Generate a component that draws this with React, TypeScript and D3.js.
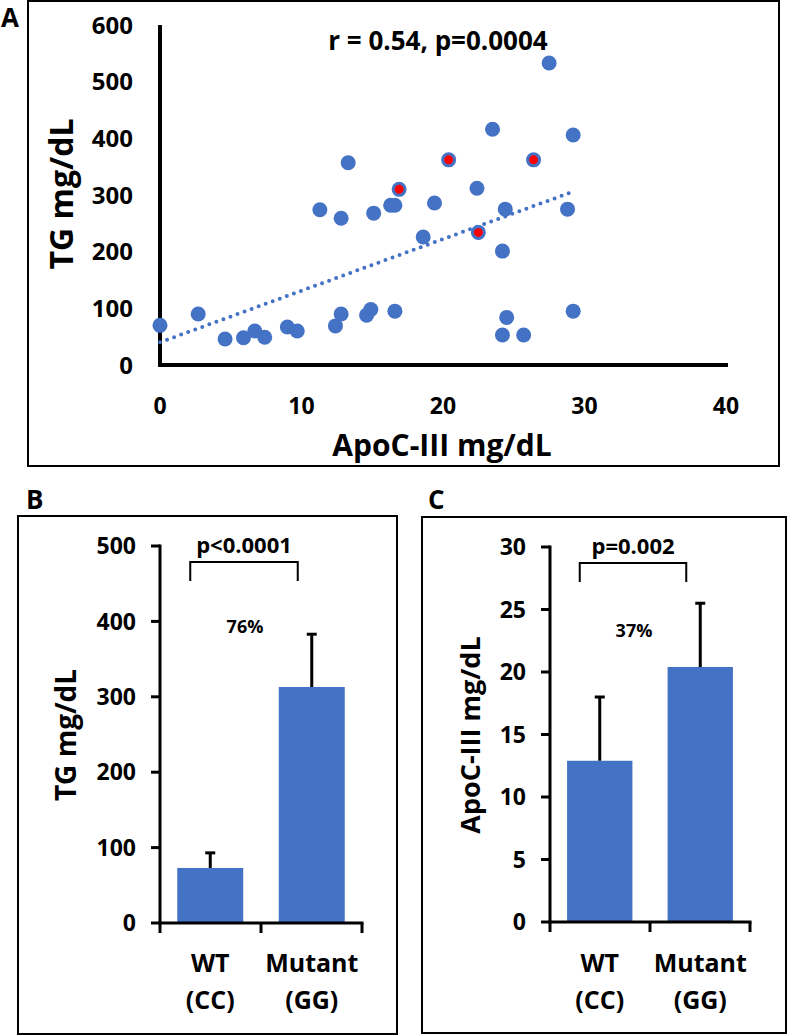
import React from "react";
import * as d3 from "d3";

// ---------- Panel A data ----------
const apocBlue = [0, 2.7, 4.6, 5.9, 6.7, 7.4, 9.0, 9.7, 12.4, 12.8, 14.6, 14.9, 16.6, 13.3, 11.3, 12.8, 15.1, 16.3, 16.6, 27.5, 23.5, 29.2, 22.4, 19.4, 24.4, 28.8, 18.6, 24.2, 24.5, 24.2, 25.7, 29.2];
const tgBlue = [70, 90, 46, 48, 60, 49, 67, 60, 69, 90, 88, 98, 95, 357, 274, 259, 268, 282, 282, 533, 416, 406, 312, 286, 275, 275, 226, 201, 84, 53, 53, 95];
const apocRed = [16.9, 20.4, 26.4, 22.5];
const tgRed = [310, 362, 362, 234];
const trendX = [0, 29.2];
const trendY = [40, 306];
const xTicksA = [0, 10, 20, 30, 40];
const yTicksA = [0, 100, 200, 300, 400, 500, 600];

// ---------- Panel B / C data ----------
const groups = ["WT", "Mutant"];
const groupSub = ["(CC)", "(GG)"];
const tgMeans = [73, 313];
const tgErr = [93, 383];
const apoMeans = [12.9, 20.4];
const apoErr = [18.0, 25.5];
const yTicksB = [0, 100, 200, 300, 400, 500];
const yTicksC = [0, 5, 10, 15, 20, 25, 30];

const BLUE = "#4472C4";
const FONT = "'Open Sans', sans-serif";

function ScatterA() {
  const x = d3.scaleLinear().domain([0, 40]).range([160, 726]);
  const y = d3.scaleLinear().domain([0, 600]).range([365, 25]);
  const line = d3.line<number>().x((_, i) => x(trendX[i])).y((_, i) => y(trendY[i]));
  return (
    <g>
      <rect x={28} y={1} width={751} height={465} fill="none" stroke="#000" strokeWidth={2} />
      <text x={1} y={27} fontFamily={FONT} fontWeight={700} fontSize={26}>A</text>
      {/* axes */}
      <line x1={x(0)} x2={x(0)} y1={y(0) + 2} y2={y(600)} stroke="#000" strokeWidth={4} />
      <line x1={x(0) - 2} x2={x(40) + 2} y1={y(0)} y2={y(0)} stroke="#000" strokeWidth={4} />
      {yTicksA.map((t) => (
        <text key={t} x={133} y={y(t)} dy="0.36em" textAnchor="end" fontFamily={FONT} fontWeight={700} fontSize={24}>{t}</text>
      ))}
      {xTicksA.map((t) => (
        <text key={t} x={x(t)} y={406} dy="0.36em" textAnchor="middle" fontFamily={FONT} fontWeight={700} fontSize={23}>{t}</text>
      ))}
      <text x={442} y={445} dy="0.36em" textAnchor="middle" fontFamily={FONT} fontWeight={700} fontSize={30}>ApoC-III mg/dL</text>
      <text transform="translate(61,194) rotate(-90)" textAnchor="middle" dy="0.36em" fontFamily={FONT} fontWeight={700} fontSize={32}>TG mg/dL</text>
      <text x={438} y={41} dy="0.36em" textAnchor="middle" fontFamily={FONT} fontWeight={700} fontSize={26}>r = 0.54, p=0.0004</text>
      {apocBlue.map((v, i) => (
        <circle key={i} cx={x(v)} cy={y(tgBlue[i])} r={7.5} fill={BLUE} />
      ))}
      {apocRed.map((v, i) => (
        <circle key={"r" + i} cx={x(v)} cy={y(tgRed[i])} r={6} fill="#FF0000" stroke={BLUE} strokeWidth={3} />
      ))}
      <path d={line(trendX) || ""} fill="none" stroke={BLUE} strokeWidth={4} strokeDasharray="0 7.5" strokeLinecap="round" />
    </g>
  );
}

type BarProps = {
  frame: [number, number, number, number];
  letter: string;
  letterX: number;
  axisX: number;
  axisEnd: number;
  y0: number;
  yTop: number;
  yMax: number;
  ticks: number[];
  means: number[];
  errs: number[];
  ylabel: string;
  ylabelX: number;
  ylabelSize: number;
  ptext: string;
  pctText: string;
  pctY: number;
};

function BarPanel(p: BarProps) {
  const y = d3.scaleLinear().domain([0, p.yMax]).range([p.y0, p.yTop]);
  const x = d3.scaleBand<string>().domain(groups).range([p.axisX, p.axisEnd]).paddingInner(0.35).paddingOuter(0.17);
  const band = d3.scaleBand<string>().domain(groups).range([p.axisX, p.axisEnd]);
  const bw = x.bandwidth();
  const c0 = x(groups[0])! + bw / 2;
  const c1 = x(groups[1])! + bw / 2;
  const brTop = p.yTop + 16;
  const [fx, fy, fw, fh] = p.frame;
  return (
    <g>
      <rect x={fx} y={fy} width={fw} height={fh} fill="none" stroke="#000" strokeWidth={2} />
      <text x={p.letterX} y={509} fontFamily={FONT} fontWeight={700} fontSize={26}>{p.letter}</text>
      {groups.map((g, i) => {
        const cx = x(g)! + bw / 2;
        return (
          <g key={g}>
            <rect x={x(g)} y={y(p.means[i])} width={bw} height={p.y0 - y(p.means[i])} fill={BLUE} />
            <line x1={cx} x2={cx} y1={y(p.means[i])} y2={y(p.errs[i])} stroke="#000" strokeWidth={3} />
            <line x1={cx - 5} x2={cx + 5} y1={y(p.errs[i])} y2={y(p.errs[i])} stroke="#000" strokeWidth={3} />
            <text x={cx} y={963} dy="0.36em" textAnchor="middle" fontFamily={FONT} fontWeight={700} fontSize={25}>{g}</text>
            <text x={cx} y={1000} dy="0.36em" textAnchor="middle" fontFamily={FONT} fontWeight={700} fontSize={25}>{groupSub[i]}</text>
          </g>
        );
      })}
      {/* y axis */}
      <line x1={p.axisX} x2={p.axisX} y1={p.y0 + 1.5} y2={p.yTop - 1.5} stroke="#000" strokeWidth={3} />
      {p.ticks.map((t) => (
        <g key={t}>
          <line x1={p.axisX - 9} x2={p.axisX} y1={y(t)} y2={y(t)} stroke="#000" strokeWidth={3} />
          <text x={p.axisX - 24} y={y(t)} dy="0.36em" textAnchor="end" fontFamily={FONT} fontWeight={700} fontSize={23}>{t}</text>
        </g>
      ))}
      {/* x axis */}
      <line x1={p.axisX - 1.5} x2={p.axisEnd + 1.5} y1={p.y0} y2={p.y0} stroke="#000" strokeWidth={3} />
      {[...groups.map((g) => band(g)!), p.axisEnd].map((v, i) => (
        <line key={i} x1={v} x2={v} y1={p.y0} y2={p.y0 + 10} stroke="#000" strokeWidth={3} />
      ))}
      {/* bracket */}
      <path d={`M${c0 - 20},${brTop + 19} V${brTop} H${c1 - 14} V${brTop + 19}`} fill="none" stroke="#000" strokeWidth={2} />
      <text x={(c0 - 20 + c1 - 14) / 2} y={p.yTop - 1} dy="0.36em" textAnchor="middle" fontFamily={FONT} fontWeight={700} fontSize={22}>{p.ptext}</text>
      <text x={(c0 + c1) / 2 - 16} y={p.pctY} dy="0.36em" textAnchor="middle" fontFamily={FONT} fontWeight={700} fontSize={18}>{p.pctText}</text>
      <text transform={`translate(${p.ylabelX},735) rotate(-90)`} textAnchor="middle" dy="0.36em" fontFamily={FONT} fontWeight={700} fontSize={p.ylabelSize}>{p.ylabel}</text>
    </g>
  );
}

export default function App() {
  return (
    <svg width={787} height={1036} style={{ position: "absolute", left: 0, top: 0, background: "#fff" }}>
      <rect x={0} y={0} width={787} height={1036} fill="#fff" />
      <ScatterA />
      <BarPanel
        frame={[18, 516, 379, 518]}
        letter="B"
        letterX={26}
        axisX={160}
        axisEnd={362}
        y0={923}
        yTop={546}
        yMax={500}
        ticks={yTicksB}
        means={tgMeans}
        errs={tgErr}
        ylabel="TG mg/dL"
        ylabelX={66}
        ylabelSize={28}
        ptext="p<0.0001"
        pctText="76%"
        pctY={627}
      />
      <BarPanel
        frame={[422, 517, 364, 516]}
        letter="C"
        letterX={428}
        axisX={550}
        axisEnd={750}
        y0={922}
        yTop={547}
        yMax={30}
        ticks={yTicksC}
        means={apoMeans}
        errs={apoErr}
        ylabel="ApoC-III mg/dL"
        ylabelX={470}
        ylabelSize={27}
        ptext="p=0.002"
        pctText="37%"
        pctY={631}
      />
    </svg>
  );
}
